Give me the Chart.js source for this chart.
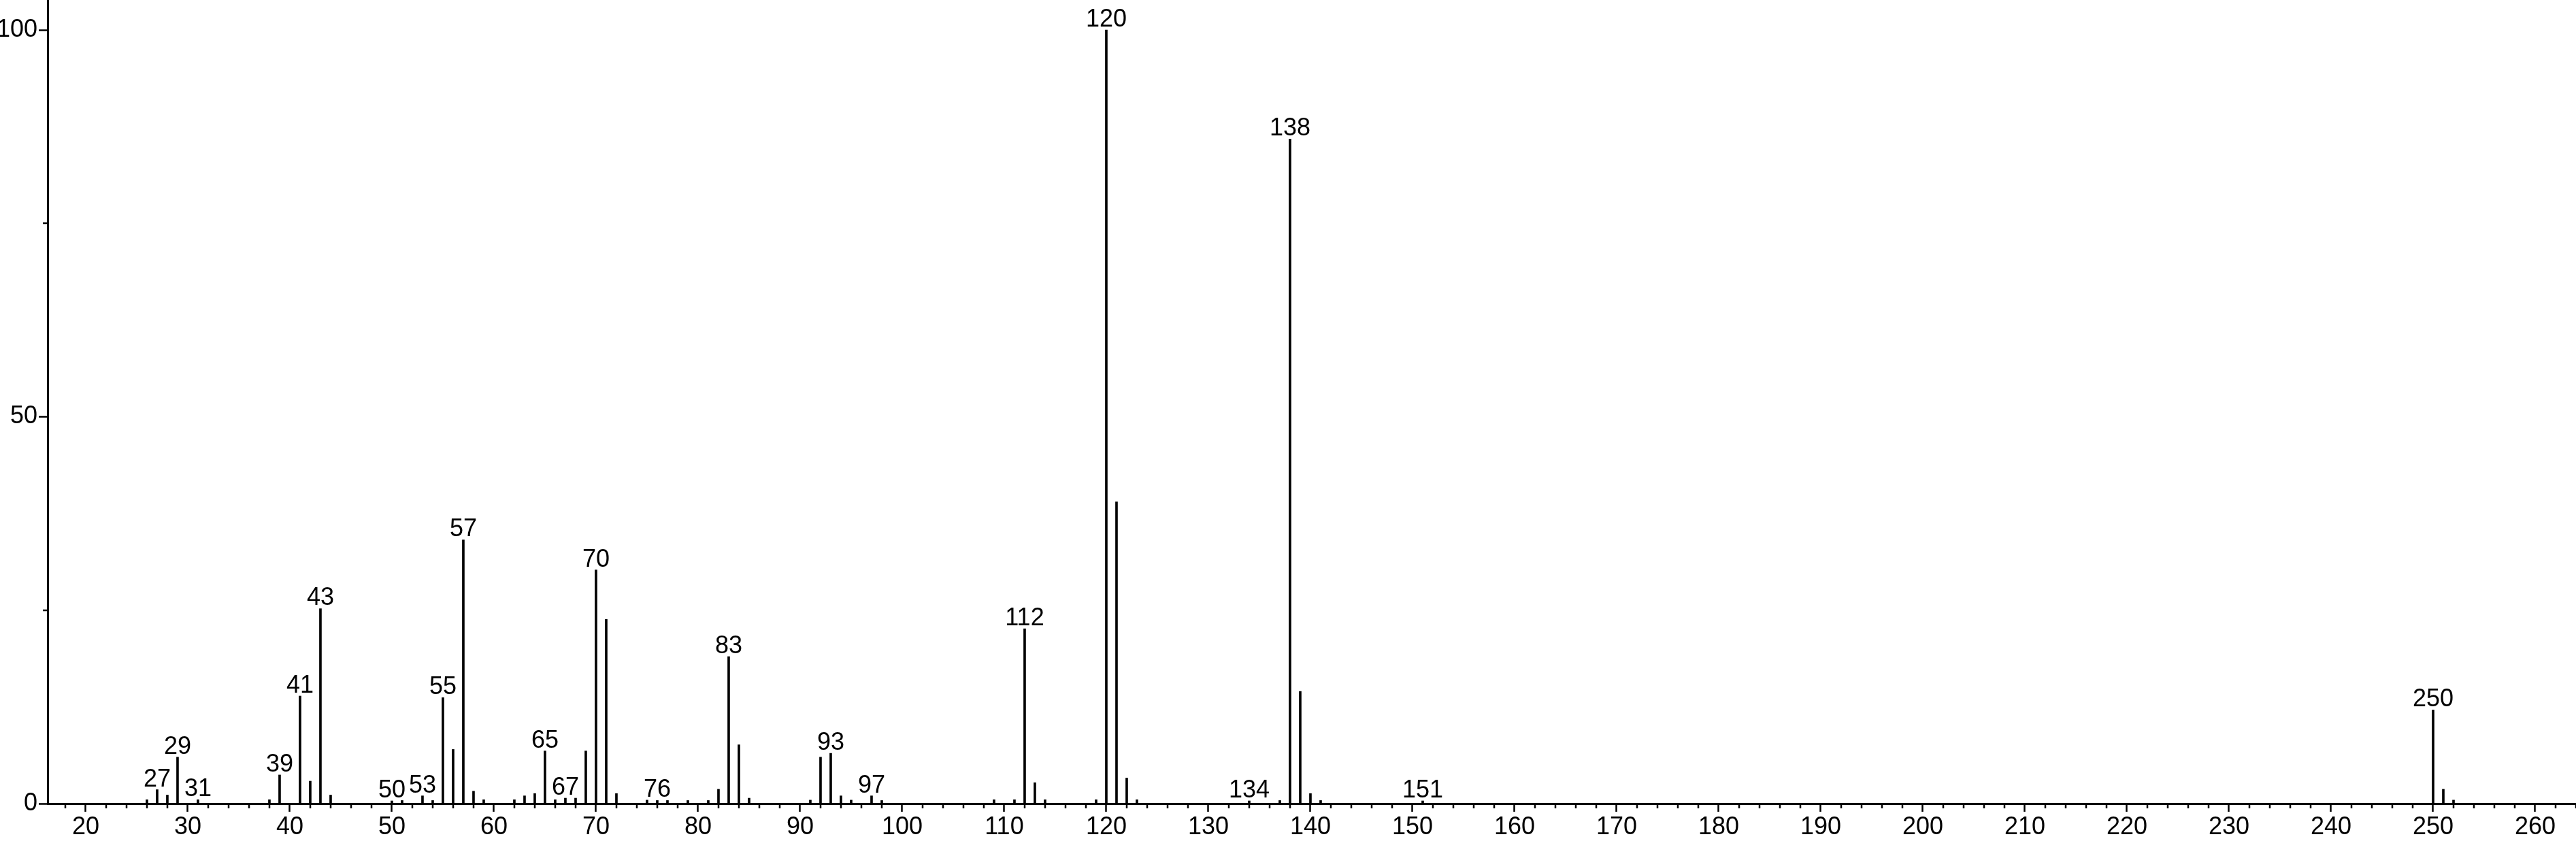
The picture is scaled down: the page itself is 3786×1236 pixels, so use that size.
<!DOCTYPE html>
<html>
<head>
<meta charset="utf-8">
<title>Mass spectrum</title>
<script src="https://cdn.jsdelivr.net/npm/chart.js@4.4.1/dist/chart.umd.min.js"></script>
<style>
  html, body { margin: 0; padding: 0; background: #fff; }
  #wrap { width: 3786px; height: 1236px; }
</style>
</head>
<body>
<div id="wrap"><canvas id="spectrum" width="3786" height="1236"></canvas></div>
<script>
// m/z values of the peaks
const mz = [26, 27, 28, 29, 31, 38, 39, 41, 42, 43, 44, 50, 51, 53, 54, 55, 56, 57, 58, 59,
  62, 63, 64, 65, 66, 67, 68, 69, 70, 71, 72, 75, 76, 77, 79, 81, 82, 83, 84, 85,
  91, 92, 93, 94, 95, 97, 98, 109, 111, 112, 113, 114, 119, 120, 121, 122, 123,
  134, 137, 138, 139, 140, 141, 151, 250, 251, 252];

// relative intensity (%)
const intensity = [0.5, 1.8, 1.1, 6.0, 0.5, 0.5, 3.7, 13.9, 2.9, 25.2, 1.1, 0.35, 0.4, 1.0, 0.4, 13.7, 7.0, 34.1, 1.6, 0.5,
  0.5, 1.0, 1.3, 6.8, 0.5, 0.7, 0.7, 6.8, 30.2, 23.8, 1.3, 0.45, 0.4, 0.4, 0.4, 0.4, 1.85, 19.0, 7.6, 0.7,
  0.45, 6.0, 6.5, 1.0, 0.45, 1.0, 0.4, 0.5, 0.5, 22.6, 2.7, 0.5, 0.5, 100, 39.0, 3.3, 0.5,
  0.35, 0.4, 85.9, 14.5, 1.3, 0.4, 0.35, 12.1, 1.85, 0.45];

// peaks that carry a number above them
const labeledMz = [27, 29, 31, 39, 41, 43, 50, 53, 55, 57, 65, 67, 70, 76, 83, 93, 97, 112, 120, 134, 138, 151, 250];

// axis ticks
const xMajorStep = 10;
const xMinorStep = 2;
const yTicks = [0, 25, 50, 75, 100];
const yLabeled = [0, 50, 100];

const FONT = '"Liberation Sans", Arial, Helvetica, sans-serif';

// short ticks (minor) drawn below / left of the axes
const minorTicks = {
  id: 'minorTicks',
  afterDraw(chart) {
    const ctx = chart.ctx;
    const xs = chart.scales.x;
    const ys = chart.scales.y;
    const area = chart.chartArea;
    ctx.save();
    ctx.strokeStyle = '#000';
    ctx.lineWidth = 2.5;
    ctx.beginPath();
    for (let v = Math.ceil(xs.min / xMinorStep) * xMinorStep; v <= xs.max; v += xMinorStep) {
      if (v % xMajorStep === 0) continue;
      const px = Math.round(xs.getPixelForValue(v));
      ctx.moveTo(px, area.bottom);
      ctx.lineTo(px, area.bottom + 7);
    }
    yTicks.forEach(v => {
      if (yLabeled.includes(v)) return;
      const py = Math.round(ys.getPixelForValue(v));
      ctx.moveTo(area.left, py);
      ctx.lineTo(area.left - 7, py);
    });
    ctx.stroke();
    ctx.restore();
  }
};

// numbers above the labelled peaks
const peakLabels = {
  id: 'peakLabels',
  afterDatasetsDraw(chart) {
    const ctx = chart.ctx;
    const meta = chart.getDatasetMeta(0);
    ctx.save();
    ctx.fillStyle = '#000';
    ctx.font = '36px ' + FONT;
    ctx.textAlign = 'center';
    ctx.textBaseline = 'alphabetic';
    meta.data.forEach((bar, i) => {
      if (!labeledMz.includes(mz[i])) return;
      ctx.fillText(String(mz[i]), bar.x, bar.y - 5);
    });
    ctx.restore();
  }
};

const ctx = document.getElementById('spectrum').getContext('2d');
new Chart(ctx, {
  type: 'bar',
  data: {
    datasets: [{
      data: mz.map((m, i) => ({ x: m, y: intensity[i] })),
      backgroundColor: '#000',
      borderWidth: 0,
      barThickness: 3
    }]
  },
  options: {
    responsive: false,
    animation: false,
    devicePixelRatio: 1,
    layout: { padding: 0 },
    plugins: {
      legend: { display: false },
      tooltip: { enabled: false }
    },
    scales: {
      x: {
        type: 'linear',
        min: 16.27,
        max: 264,
        offset: false,
        border: { display: true, color: '#000', width: 3 },
        grid: {
          offset: false,
          drawOnChartArea: false,
          tickLength: 12,
          tickWidth: 2.5,
          tickColor: c => (c.tick && c.tick.value % xMajorStep === 0) ? '#000' : 'rgba(0,0,0,0)'
        },
        ticks: {
          stepSize: xMinorStep,
          autoSkip: false,
          maxRotation: 0,
          padding: 1,
          color: '#000',
          font: { family: FONT, size: 36 },
          callback: v => (v % xMajorStep === 0 ? String(v) : '')
        },
        afterFit: s => {
          s.height = 55;
          s.paddingLeft = 0;
          s.paddingRight = 0;
        }
      },
      y: {
        type: 'linear',
        min: 0,
        max: 103.87,
        border: { display: true, color: '#000', width: 3 },
        grid: {
          drawOnChartArea: false,
          tickLength: 13,
          tickWidth: 2.5,
          tickColor: c => (c.tick && yLabeled.includes(c.tick.value)) ? '#000' : 'rgba(0,0,0,0)'
        },
        ticks: {
          stepSize: 25,
          padding: 2,
          color: '#000',
          font: { family: FONT, size: 36 },
          callback: v => (yLabeled.includes(v) ? String(v) : '')
        },
        afterFit: s => {
          s.width = 70;
          s.paddingTop = 0;
          s.paddingBottom = 0;
        }
      }
    }
  },
  plugins: [minorTicks, peakLabels]
});
</script>
</body>
</html>
